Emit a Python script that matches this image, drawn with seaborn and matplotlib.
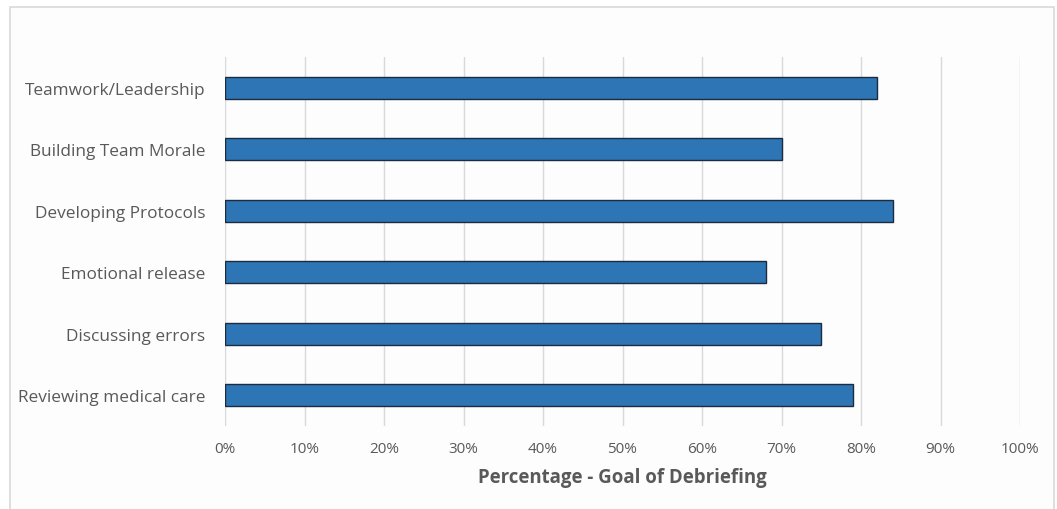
import matplotlib
matplotlib.use("Agg")
import matplotlib.pyplot as plt
import seaborn as sns
import pandas as pd
from matplotlib.patches import Rectangle
from matplotlib.ticker import FuncFormatter, MultipleLocator

categories = ["Teamwork/Leadership", "Building Team Morale", "Developing Protocols",
              "Emotional release", "Discussing errors", "Reviewing medical care"]
values = [82, 70, 84, 68, 75, 79]
x_label = "Percentage - Goal of Debriefing"

sns.set_theme(style="white")
plt.rcParams['font.family'] = ['Open Sans', 'DejaVu Sans']

df = pd.DataFrame({"cat": categories, "val": values})

fig = plt.figure(figsize=(10.57, 5.10), dpi=100)
fig.patch.set_facecolor("white")
frame = Rectangle((10/1057, -0.05), 1044/1057, (510-8)/510 + 0.05,
                  transform=fig.transFigure, facecolor="#fdfdfd",
                  edgecolor="#d9d9d9", linewidth=1.2, zorder=-10)
fig.patches.append(frame)
ax = fig.add_axes([225/1057, 1 - 427/510, (1020-225)/1057, (427-58)/510])
ax.set_zorder(5)
ax.set_facecolor("none")

sns.barplot(data=df, x="val", y="cat", orient="h", ax=ax, color="#2e75b6",
            width=0.35, edgecolor="#1c2b3f", linewidth=1.0, saturation=1, zorder=3)

ax.set_xlim(0, 100)
ax.set_ylim(5.5, -0.5)
ax.xaxis.set_major_locator(MultipleLocator(10))
ax.xaxis.set_major_formatter(FuncFormatter(lambda v, p: f"{int(v)}%"))
ax.grid(axis="x", color="#d9d9d9", linewidth=1.0, zorder=0)
ax.grid(axis="y", visible=False)
for s in ax.spines.values():
    s.set_visible(False)
ax.tick_params(axis="x", length=0, pad=11, labelsize=11, labelcolor="#595959")
ax.tick_params(axis="y", length=0, pad=14, labelsize=12.4, labelcolor="#595959")
ax.set_ylabel("")
ax.set_xlabel(x_label, fontsize=13.4, fontweight="bold", color="#595959", labelpad=8)

fig.savefig("out.png", dpi=100, facecolor=fig.get_facecolor())
